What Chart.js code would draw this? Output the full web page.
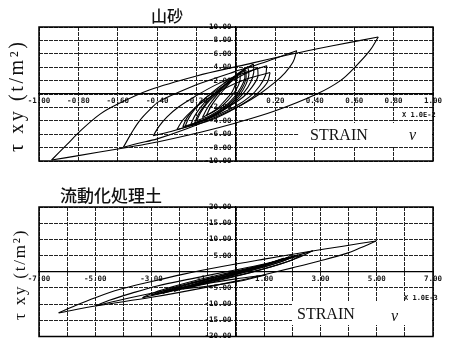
<!DOCTYPE html>
<html>
<head>
<meta charset="utf-8">
<script src="https://cdn.jsdelivr.net/npm/chart.js@4"></script>
<style>
  body { margin: 0; background: #fff; }
  #wrap { position: relative; width: 449px; height: 344px; overflow: hidden; }
  canvas { position: absolute; left: 0; }
  .t { position: absolute; white-space: nowrap; color: #111; }
  .title { font-family: 'Noto Sans CJK JP'; font-weight: 500; }
  .ylab { font-family: 'Liberation Serif'; transform-origin: 0 0; transform: rotate(-90deg); }
  .box { position: absolute; background: #fff; }
  .strain { font-family: 'Liberation Serif'; font-size: 16px; }
  .nu { font-family: 'Liberation Serif'; font-style: italic; font-size: 16px; }
  .mult { font-family: 'DejaVu Sans Mono'; font-weight: bold; font-size: 7px; }
</style>
</head>
<body>
<div id="wrap">
  <canvas id="sand" width="449" height="172" style="top:0"></canvas>
  <canvas id="fluid" width="449" height="172" style="top:172px"></canvas>

  <div class="t title" style="left:151px; top:3px; font-size:16px;">山砂</div>
  <div class="t ylab" style="left:5px; top:152px; font-size:20px; letter-spacing:2.6px;">τ xy (t/m²)</div>
  <div class="box" style="left:298px; top:123px; width:134px; height:23px;"></div>
  <div class="t strain" style="left:310px; top:126px;">STRAIN</div>
  <div class="t nu" style="left:409px; top:126px;">ν</div>
  <div class="t mult" style="left:402px; top:111px;">X 1.0E-2</div>

  <div class="t title" style="left:60px; top:182px; font-size:17px;">流動化処理土</div>
  <div class="t ylab" style="left:10px; top:320px; font-size:17px; letter-spacing:1.8px;">τ xy (t/m²)</div>
  <div class="box" style="left:292px; top:301px; width:140px; height:24px;"></div>
  <div class="t strain" style="left:297px; top:305px;">STRAIN</div>
  <div class="t nu" style="left:391px; top:307px;">ν</div>
  <div class="t mult" style="left:404px; top:294px;">X 1.0E-3</div>
</div>
<script>
// 山砂 : strain (x1.0E-2) vs τxy (t/m2), loading / unloading branch of each loop
const sandUp1 = [[-0.936,-9.85],[-0.86,-7.6],[-0.79,-5.5],[-0.69,-3.0],[-0.60,-1.5],[-0.44,0.6],[-0.20,2.7],[0.02,4.2],[0.29,6.0],[0.49,7.2],[0.722,8.5]];
const sandDown1 = [[0.722,8.5],[0.68,6.5],[0.61,4.2],[0.53,2.0],[0.41,0.0],[0.20,-2.5],[-0.01,-4.4],[-0.18,-5.7],[-0.44,-7.4],[-0.60,-8.2],[-0.80,-9.2],[-0.936,-9.85]];
const sandUp2 = [[-0.572,-7.96],[-0.53,-5.8],[-0.49,-4.0],[-0.44,-2.4],[-0.39,-1.1],[-0.28,0.4],[-0.18,1.6],[-0.01,3.3],[0.16,4.9],[0.308,6.47]];
const sandDown2 = [[0.308,6.47],[0.29,4.8],[0.25,3.2],[0.20,1.8],[0.12,0.0],[0.03,-1.6],[-0.10,-3.4],[-0.25,-5.2],[-0.40,-6.7],[-0.50,-7.4],[-0.572,-7.96]];
const sandUp3 = [[-0.42,-6.22],[-0.39,-4.8],[-0.35,-3.4],[-0.29,-1.9],[-0.21,-0.4],[-0.10,1.4],[0.02,2.9],[0.156,4.23]];
const sandDown3 = [[0.156,4.23],[0.15,2.8],[0.12,1.2],[0.07,-0.4],[0.0,-1.8],[-0.10,-3.2],[-0.22,-4.6],[-0.33,-5.6],[-0.42,-6.22]];
const sandUp4 = [[-0.259,-4.88],[-0.24,-3.6],[-0.21,-2.3],[-0.17,-1.0],[-0.11,0.5],[-0.04,2.0],[0.03,3.4],[0.088,4.48]];
const sandDown4 = [[0.088,4.48],[0.09,3.2],[0.075,1.8],[0.04,0.2],[-0.01,-1.3],[-0.08,-2.7],[-0.17,-4.0],[-0.259,-4.88]];
const sandUp5 = [[-0.23,-4.6],[-0.21,-3.3],[-0.18,-2.0],[-0.14,-0.7],[-0.08,0.8],[-0.02,2.3],[0.03,3.4],[0.06,4.1]];
const sandDown5 = [[0.06,4.1],[0.065,2.8],[0.05,1.4],[0.02,-0.1],[-0.03,-1.6],[-0.09,-2.9],[-0.16,-3.9],[-0.23,-4.6]];
const sandUp6 = [[-0.20,-4.0],[-0.18,-2.8],[-0.15,-1.5],[-0.10,0.0],[-0.05,1.5],[0.0,2.7],[0.04,3.7]];
const sandDown6 = [[0.04,3.7],[0.045,2.4],[0.025,1.0],[-0.01,-0.5],[-0.06,-1.9],[-0.13,-3.2],[-0.20,-4.0]];
const sandUp7 = [[-0.17,-3.5],[-0.15,-2.3],[-0.12,-1.0],[-0.08,0.4],[-0.03,1.8],[0.0,2.7],[0.02,3.3]];
const sandDown7 = [[0.02,3.3],[0.02,2.0],[0.0,0.6],[-0.04,-0.9],[-0.09,-2.2],[-0.17,-3.5]];
const sandUp8 = [[-0.30,-5.3],[-0.27,-3.9],[-0.22,-2.4],[-0.15,-0.8],[-0.06,0.8],[0.05,2.2],[0.173,3.2]];
const sandDown8 = [[0.173,3.2],[0.16,1.8],[0.12,0.4],[0.06,-1.0],[-0.02,-2.4],[-0.13,-3.9],[-0.30,-5.3]];
const sandUp9 = [[-0.27,-4.9],[-0.25,-3.6],[-0.21,-2.1],[-0.15,-0.5],[-0.07,1.1],[0.02,2.6],[0.11,3.9]];
const sandDown9 = [[0.11,3.9],[0.11,2.5],[0.08,1.0],[0.03,-0.6],[-0.05,-2.1],[-0.15,-3.7],[-0.27,-4.9]];
const sandUp10 = [[-0.21,-4.3],[-0.19,-3.0],[-0.16,-1.7],[-0.12,-0.3],[-0.06,1.2],[0.0,2.6],[0.05,3.6]];
const sandDown10 = [[0.05,3.6],[0.05,2.2],[0.03,0.8],[-0.01,-0.8],[-0.07,-2.3],[-0.14,-3.5],[-0.21,-4.3]];
const sandUp11 = [[-0.15,-3.2],[-0.13,-2.0],[-0.10,-0.7],[-0.06,0.7],[-0.02,2.0],[0.01,3.0]];
const sandDown11 = [[0.01,3.0],[0.0,1.7],[-0.02,0.3],[-0.06,-1.1],[-0.10,-2.3],[-0.15,-3.2]];

// 流動化処理土 : strain (x1.0E-3) vs τxy (t/m2)
const fluidUp1 = [[-6.30,-12.7],[-5.7,-10.4],[-5.0,-8.0],[-4.15,-5.5],[-3.0,-3.0],[-1.9,-0.8],[-0.5,1.6],[1.0,3.9],[2.5,6.1],[3.8,7.9],[4.98,9.5]];
const fluidDown1 = [[4.98,9.5],[4.4,7.3],[3.9,5.6],[3.0,3.4],[2.0,1.2],[1.0,-0.9],[0.0,-2.9],[-1.3,-5.2],[-3.0,-7.9],[-5.0,-10.6],[-6.30,-12.7]];
const fluidUp2 = [[-4.98,-10.5],[-4.5,-8.8],[-3.7,-6.6],[-2.8,-4.4],[-1.6,-2.2],[-0.3,0.1],[1.0,2.4],[2.0,4.6],[2.73,6.5]];
const fluidDown2 = [[2.73,6.5],[2.2,4.3],[1.5,2.2],[0.5,-0.2],[-0.8,-2.8],[-2.0,-4.9],[-3.3,-7.2],[-4.3,-9.1],[-4.98,-10.5]];
const fluidUp3 = [[-3.32,-8.0],[-2.9,-6.4],[-2.2,-4.5],[-1.3,-2.4],[-0.2,-0.2],[0.9,2.0],[1.7,3.7],[2.31,5.0]];
const fluidDown3 = [[2.31,5.0],[1.9,3.3],[1.2,1.4],[0.3,-0.8],[-0.8,-3.1],[-1.9,-5.2],[-2.7,-6.8],[-3.32,-8.0]];
const fluidUp4 = [[-3.0,-7.2],[-2.4,-5.3],[-1.5,-3.2],[-0.4,-0.9],[0.7,1.5],[1.5,3.4],[2.1,5.0]];
const fluidDown4 = [[2.1,5.0],[1.6,3.1],[0.8,1.0],[-0.3,-1.5],[-1.3,-3.7],[-2.2,-5.6],[-3.0,-7.2]];
const fluidUp5 = [[-2.6,-6.6],[-2.0,-4.7],[-1.1,-2.6],[0.0,-0.2],[1.0,2.1],[1.9,4.6]];
const fluidDown5 = [[1.9,4.6],[1.3,2.6],[0.4,0.3],[-0.7,-2.2],[-1.7,-4.5],[-2.6,-6.6]];
const fluidUp6 = [[-2.2,-6.0],[-1.6,-4.1],[-0.7,-2.0],[0.3,0.3],[1.1,2.4],[1.7,4.2]];
const fluidDown6 = [[1.7,4.2],[1.1,2.3],[0.2,0.0],[-0.8,-2.5],[-1.5,-4.3],[-2.2,-6.0]];
const fluidUp7 = [[-1.9,-5.3],[-1.0,-3.6],[0.0,-2.2],[1.05,-1.0]];
const fluidDown7 = [[1.05,-1.0],[0.3,-2.6],[-0.7,-4.1],[-1.9,-5.3]];
const fluidUp8 = [[-2.8,-6.9],[-2.2,-5.0],[-1.3,-2.9],[-0.2,-0.5],[0.9,1.9],[1.8,4.0],[2.2,5.2]];
const fluidDown8 = [[2.2,5.2],[1.7,3.4],[0.9,1.3],[-0.1,-1.1],[-1.2,-3.4],[-2.1,-5.3],[-2.8,-6.9]];
const fluidUp9 = [[-1.6,-4.6],[-1.1,-3.2],[-0.3,-1.3],[0.6,0.9],[1.3,2.9]];
const fluidDown9 = [[1.3,2.9],[0.8,1.3],[-0.1,-0.9],[-0.9,-3.0],[-1.6,-4.6]];

const sandX = { min: -1, max: 1, step: 0.2 };
const sandY = { min: -10, max: 10, step: 2 };
const fluidX = { min: -7, max: 7, step: 1 };
const fluidY = { min: -20, max: 20, step: 5 };

const sandBranches = [sandUp1, sandDown1, sandUp2, sandDown2, sandUp3, sandDown3, sandUp4, sandDown4,
  sandUp5, sandDown5, sandUp6, sandDown6, sandUp7, sandDown7, sandUp8, sandDown8,
  sandUp9, sandDown9, sandUp10, sandDown10, sandUp11, sandDown11];
const fluidBranches = [fluidUp1, fluidDown1, fluidUp2, fluidDown2, fluidUp3, fluidDown3, fluidUp4, fluidDown4,
  fluidUp5, fluidDown5, fluidUp6, fluidDown6, fluidUp7, fluidDown7, fluidUp8, fluidDown8, fluidUp9, fluidDown9];

const tickFont = { family: 'DejaVu Sans Mono', size: 7.5, weight: 'bold' };

const frame = {
  id: 'frame',
  afterDraw(chart) {
    const { ctx, chartArea: a } = chart;
    ctx.save();
    ctx.strokeStyle = '#000';
    ctx.lineWidth = 1.5;
    ctx.strokeRect(a.left, a.top, a.right - a.left, a.bottom - a.top);
    ctx.restore();
  }
};

function noZero(v) {
  return Math.abs(v) < 1e-9 ? '' : v.toFixed(2);
}

function makeChart(id, branches, xr, yr, xLabel, pad) {
  new Chart(document.getElementById(id), {
    type: 'scatter',
    data: {
      datasets: branches.map(b => ({
        data: b,
        showLine: true,
        borderColor: '#000',
        borderWidth: 1.1,
        pointRadius: 0,
        tension: 0.35
      }))
    },
    options: {
      responsive: false,
      animation: false,
      layout: { padding: pad },
      plugins: { legend: { display: false }, tooltip: { enabled: false } },
      scales: {
        x: {
          type: 'linear', min: xr.min, max: xr.max,
          position: { y: 0 },
          ticks: { stepSize: xr.step, autoSkip: false, maxRotation: 0, padding: 3,
                   font: tickFont, color: '#111', callback: xLabel },
          grid: { color: '#222', drawTicks: false },
          border: { color: '#000', width: 1.2, dash: [4, 1] }
        },
        y: {
          type: 'linear', min: yr.min, max: yr.max,
          position: { x: 0 },
          ticks: { stepSize: yr.step, autoSkip: false, padding: 3,
                   font: tickFont, color: '#111', callback: v => (noZero(v) ? noZero(v) + ' ' : '') },
          grid: { color: '#222', drawTicks: false },
          border: { color: '#000', width: 1.2, dash: [4, 1] }
        }
      }
    },
    plugins: [frame]
  });
}

makeChart('sand', sandBranches, sandX, sandY, noZero,
  { left: 39, top: 27, right: 16, bottom: 11 });
makeChart('fluid', fluidBranches, fluidX, fluidY,
  v => (Math.abs(Math.round(v)) % 2 === 1 ? v.toFixed(2) : ''),
  { left: 39, top: 35, right: 16, bottom: 4 });
</script>
</body>
</html>
